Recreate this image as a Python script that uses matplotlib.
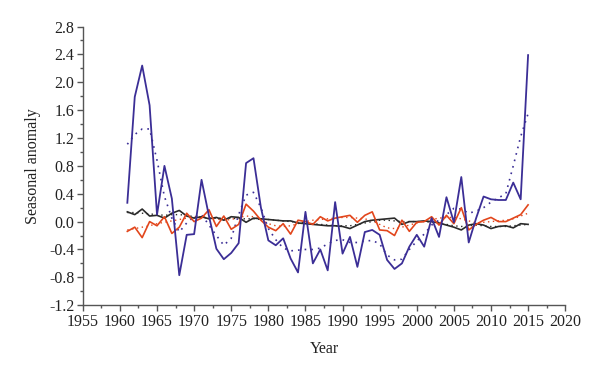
import matplotlib
matplotlib.use("Agg")
import matplotlib.pyplot as plt
from matplotlib.ticker import MultipleLocator, FormatStrFormatter

plt.rcParams['font.family'] = ['Liberation Serif', 'DejaVu Serif']

years = list(range(1961, 2016))

blue = [0.27, 1.79, 2.24, 1.67, 0.10, 0.80, 0.33, -0.77, -0.19, -0.18,
        0.60, 0.08, -0.39, -0.54, -0.45, -0.31, 0.84, 0.91, 0.20, -0.27,
        -0.34, -0.24, -0.53, -0.73, 0.14, -0.60, -0.40, -0.70, 0.28, -0.46,
        -0.22, -0.65, -0.15, -0.12, -0.19, -0.55, -0.68, -0.60, -0.36, -0.19,
        -0.36, 0.05, -0.22, 0.35, -0.01, 0.64, -0.30, 0.05, 0.36, 0.32,
        0.31, 0.31, 0.56, 0.32, 2.39]

blue_trend = [1.11, 1.25, 1.33, 1.33, 0.88, 0.36, 0.05, -0.15, -0.02, 0.07,
              0.10, -0.05, -0.20, -0.34, -0.24, 0.10, 0.38, 0.42, 0.20, -0.10,
              -0.26, -0.38, -0.42, -0.41, -0.40, -0.40, -0.38, -0.32, -0.27, -0.26,
              -0.30, -0.30, -0.28, -0.27, -0.32, -0.48, -0.55, -0.54, -0.40, -0.28,
              -0.18, -0.05, 0.02, 0.10, 0.19, 0.18, 0.12, 0.15, 0.20, 0.28,
              0.34, 0.40, 0.80, 1.22, 1.55]

red = [-0.14, -0.08, -0.23, 0.00, -0.06, 0.07, -0.17, -0.08, 0.12, 0.00,
       0.05, 0.17, -0.07, 0.08, -0.11, -0.04, 0.25, 0.15, 0.02, -0.08,
       -0.13, -0.03, -0.18, 0.02, 0.00, -0.04, 0.07, 0.01, 0.05, 0.07,
       0.09, -0.01, 0.09, 0.14, -0.12, -0.13, -0.20, 0.02, -0.14, -0.01,
       0.00, 0.07, -0.05, 0.09, -0.03, 0.20, -0.12, -0.04, 0.02, 0.06,
       0.00, 0.00, 0.05, 0.10, 0.24]

red_trend = [-0.12, -0.10, -0.08, -0.06, -0.03, -0.01, 0.01, 0.03, 0.05, 0.06,
             0.07, 0.06, 0.04, 0.02, 0.03, 0.06, 0.08, 0.07, 0.03, -0.03,
             -0.06, -0.07, -0.06, -0.03, 0.00, 0.02, 0.03, 0.04, 0.05, 0.06,
             0.06, 0.05, 0.04, 0.01, -0.04, -0.09, -0.10, -0.08, -0.05, -0.02,
             0.01, 0.03, 0.05, 0.06, 0.06, 0.04, 0.01, -0.02, -0.01, 0.00,
             0.01, 0.02, 0.04, 0.08, 0.12]

black = [0.14, 0.10, 0.18, 0.08, 0.09, 0.05, 0.12, 0.16, 0.08, 0.05,
         0.07, 0.04, 0.06, 0.02, 0.07, 0.06, -0.01, 0.05, 0.04, 0.03,
         0.02, 0.01, 0.01, -0.02, -0.03, -0.04, -0.05, -0.06, -0.06, -0.07,
         -0.10, -0.05, 0.00, 0.02, 0.03, 0.04, 0.05, -0.04, 0.00, 0.00,
         0.01, 0.00, -0.02, -0.05, -0.08, -0.12, -0.05, -0.03, -0.05, -0.10,
         -0.07, -0.06, -0.09, -0.03, -0.04]

black_trend = [0.13, 0.13, 0.12, 0.11, 0.10, 0.09, 0.10, 0.10, 0.09, 0.07,
               0.06, 0.05, 0.05, 0.05, 0.05, 0.04, 0.04, 0.04, 0.03, 0.03,
               0.02, 0.01, 0.00, -0.01, -0.02, -0.03, -0.04, -0.05, -0.06, -0.06,
               -0.06, -0.04, -0.02, 0.00, 0.02, 0.02, 0.01, 0.00, 0.00, 0.00,
               0.00, -0.01, -0.02, -0.04, -0.06, -0.07, -0.06, -0.05, -0.06, -0.07,
               -0.07, -0.07, -0.06, -0.05, -0.04]

BLUE = '#3b2e96'
RED = '#e2461c'
BLACK = '#2a2a2a'

fig = plt.figure(figsize=(6.0, 3.74), dpi=100)
ax = fig.add_axes([0.138, 0.184, 0.804, 0.745])

ax.plot(years, black_trend, color=BLACK, lw=1.0, ls=(0, (1, 2.5)))
ax.plot(years, red_trend, color=RED, lw=1.0, ls=(0, (1, 2.5)))
ax.plot(years, blue_trend, color=BLUE, lw=1.2, ls=(0, (1, 3)))
ax.plot(years, black, color=BLACK, lw=1.2)
ax.plot(years, red, color=RED, lw=1.2)
ax.plot(years, blue, color=BLUE, lw=1.3)

ax.set_xlim(1955, 2020)
ax.set_ylim(-1.2, 2.8)
ax.xaxis.set_major_locator(MultipleLocator(5))
ax.xaxis.set_minor_locator(MultipleLocator(2.5))
ax.yaxis.set_major_locator(MultipleLocator(0.4))
ax.yaxis.set_minor_locator(MultipleLocator(0.2))
ax.yaxis.set_major_formatter(FormatStrFormatter('%.1f'))

for s in ['top', 'right']:
    ax.spines[s].set_visible(False)
for s in ['left', 'bottom']:
    ax.spines[s].set_color('#555555')
    ax.spines[s].set_linewidth(1.0)

ax.tick_params(axis='both', which='major', direction='out', length=4,
               width=1.0, color='#555555', labelsize=11.5, labelcolor='#222222', pad=2)
ax.tick_params(axis='both', which='minor', direction='out', length=2.5,
               width=1.0, color='#555555')

ax.set_xlabel('Year', fontsize=11.5, color='#222222', labelpad=8)
ax.set_ylabel('Seasonal anomaly', fontsize=11.5, color='#222222', labelpad=6)

fig.savefig('out.png', dpi=100)
